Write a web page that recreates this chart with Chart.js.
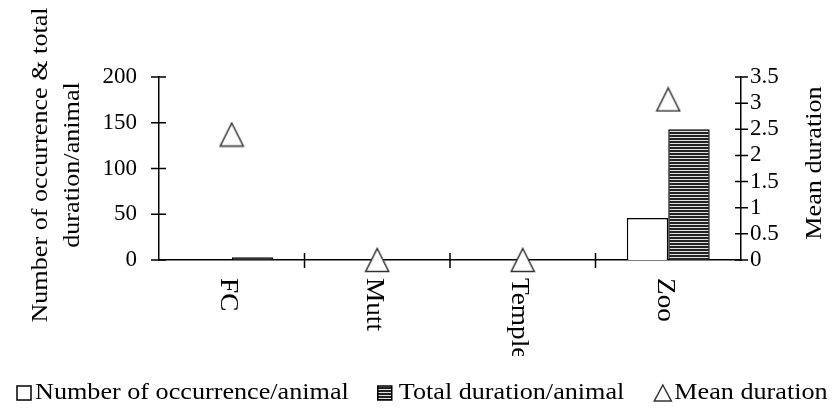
<!DOCTYPE html>
<html>
<head>
<meta charset="utf-8">
<script src="https://cdn.jsdelivr.net/npm/chart.js@4/dist/chart.umd.min.js"></script>
<style>
  html, body { margin: 0; padding: 0; background: #fff; }
</style>
</head>
<body>
<canvas id="myChart" width="838" height="409"></canvas>
<script>
// values
const categories = ['FC', 'Mutt', 'Temple', 'Zoo'];
const occurrence = [0, 0, 0, 46];
const totalDuration = [3, 0, 0, 143];
const meanDuration = [2.4, 0, 0, 3.07];
const leftTicks = [0, 50, 100, 150, 200];
const rightTicks = [0, 0.5, 1, 1.5, 2, 2.5, 3, 3.5];
const seriesNames = ['Number of occurrence/animal', 'Total duration/animal', 'Mean duration'];
const leftTitle = ['Number of occurrence & total', 'duration/animal'];
const rightTitle = 'Mean duration';

const FONT = '"Liberation Serif", "Times New Roman", Tinos, Times, serif';
const STRETCH = 1.09;

const canvas = document.getElementById('myChart');
const ctx = canvas.getContext('2d');

// horizontal stripes for the total duration bars
function stripes() {
    const c = document.createElement('canvas');
    c.width = 4; c.height = 3;
    const g = c.getContext('2d');
    g.fillStyle = '#e0e0e0'; g.fillRect(0, 0, 4, 3);
    g.fillStyle = '#222'; g.fillRect(0, 0, 4, 2);
    return ctx.createPattern(c, 'repeat');
}
const hatch = stripes();

// open triangle marker
function triangle() {
    const c = document.createElement('canvas');
    c.width = 26; c.height = 26;
    const g = c.getContext('2d');
    g.beginPath();
    g.moveTo(13, 1.5); g.lineTo(24.5, 24.5); g.lineTo(1.5, 24.5); g.closePath();
    g.fillStyle = '#fff'; g.fill();
    g.strokeStyle = '#333'; g.lineWidth = 1.5; g.stroke();
    return c;
}

function drawText(str, x, y, angle, align) {
    ctx.save();
    ctx.translate(x, y);
    ctx.rotate(angle);
    ctx.scale(STRETCH, 1);
    ctx.textAlign = align;
    ctx.textBaseline = 'middle';
    ctx.fillText(str, 0, 0);
    ctx.restore();
}

const decor = {
    id: 'decor',
    beforeDatasetsDraw(chart) {
        const a = chart.chartArea;
        const { x, y, y1 } = chart.scales;
        ctx.save();
        ctx.strokeStyle = '#000';
        ctx.lineWidth = 1.5;
        ctx.beginPath();
        y.ticks.forEach(t => {
            const p = y.getPixelForValue(t.value);
            ctx.moveTo(a.left - 8, p); ctx.lineTo(a.left + 7, p);
        });
        y1.ticks.forEach(t => {
            const p = y1.getPixelForValue(t.value);
            ctx.moveTo(a.right - 6, p); ctx.lineTo(a.right + 7, p);
        });
        for (let i = 1; i < categories.length; i++) {
            const p = (x.getPixelForValue(i - 1) + x.getPixelForValue(i)) / 2;
            ctx.moveTo(p, a.bottom - 7); ctx.lineTo(p, a.bottom + 8);
        }
        ctx.stroke();
        ctx.restore();
    },
    afterDraw(chart) {
        const x = chart.scales.x;
        ctx.save();
        ctx.fillStyle = '#000';

        // axis titles
        ctx.font = '24px ' + FONT;
        drawText(leftTitle[0], 41, 165, -Math.PI / 2, 'center');
        drawText(leftTitle[1], 73, 165, -Math.PI / 2, 'center');
        drawText(rightTitle, 815, 163, -Math.PI / 2, 'center');

        // category labels, rotated clockwise and cut at the bottom
        ctx.save();
        ctx.beginPath();
        ctx.rect(0, 0, 838, 356);
        ctx.clip();
        ctx.font = '25px ' + FONT;
        categories.forEach((c, i) => {
            drawText(c, x.getPixelForValue(i) - 4, 278, Math.PI / 2, 'left');
        });
        ctx.restore();

        // legend
        const ly = 393;
        ctx.font = '24px ' + FONT;
        ctx.lineWidth = 1.5;
        ctx.strokeStyle = '#000';
        let lx = 17;
        ctx.fillStyle = '#fff';
        ctx.fillRect(lx, ly - 7, 14, 14);
        ctx.strokeRect(lx, ly - 7, 14, 14);
        ctx.fillStyle = '#000';
        drawText(seriesNames[0], lx + 18, ly, 0, 'left');
        lx += 18 + ctx.measureText(seriesNames[0]).width * STRETCH + 29;

        ctx.fillStyle = hatch;
        ctx.fillRect(lx, ly - 7, 14, 14);
        ctx.strokeRect(lx, ly - 7, 14, 14);
        ctx.fillStyle = '#000';
        drawText(seriesNames[1], lx + 21, ly, 0, 'left');
        lx += 21 + ctx.measureText(seriesNames[1]).width * STRETCH + 30;

        ctx.strokeStyle = '#333';
        ctx.beginPath();
        ctx.moveTo(lx + 8.5, ly - 8); ctx.lineTo(lx + 17, ly + 8); ctx.lineTo(lx, ly + 8); ctx.closePath();
        ctx.stroke();
        drawText(seriesNames[2], lx + 20, ly, 0, 'left');
        ctx.restore();
    }
};

function draw() {
    new Chart(ctx, {
        type: 'bar',
        data: {
            labels: categories,
            datasets: [{
                label: seriesNames[0],
                data: occurrence,
                backgroundColor: '#fff',
                borderColor: '#000',
                borderWidth: 1.5,
                yAxisID: 'y',
                order: 1
            }, {
                label: seriesNames[1],
                data: totalDuration,
                backgroundColor: hatch,
                borderColor: '#000',
                borderWidth: 1.5,
                yAxisID: 'y',
                order: 1
            }, {
                type: 'line',
                label: seriesNames[2],
                data: meanDuration,
                showLine: false,
                pointStyle: triangle(),
                yAxisID: 'y1',
                clip: false,
                order: 0
            }]
        },
        options: {
            responsive: false,
            animation: false,
            events: [],
            layout: { padding: { top: 77, left: 0, right: 0, bottom: 0 } },
            datasets: {
                bar: { categoryPercentage: 0.57, barPercentage: 1 }
            },
            plugins: {
                legend: { display: false },
                tooltip: { enabled: false }
            },
            scales: {
                x: {
                    type: 'category',
                    offset: true,
                    grid: { display: false },
                    ticks: { display: false },
                    border: { display: true, color: '#000', width: 1.5 },
                    afterFit: s => { s.height = 149; }
                },
                y: {
                    position: 'left',
                    min: 0,
                    max: 200,
                    afterBuildTicks: s => { s.ticks = leftTicks.map(v => ({ value: v })); },
                    grid: { display: false, drawTicks: false },
                    border: { display: true, color: '#000', width: 1.5 },
                    ticks: {
                        autoSkip: false,
                        padding: 22,
                        color: '#000',
                        font: { family: FONT, size: 23 },
                        callback: v => String(v)
                    },
                    afterFit: s => { s.width = 159; }
                },
                y1: {
                    position: 'right',
                    min: 0,
                    max: 3.5,
                    afterBuildTicks: s => { s.ticks = rightTicks.map(v => ({ value: v })); },
                    grid: { display: false, drawTicks: false },
                    border: { display: true, color: '#000', width: 1.5 },
                    ticks: {
                        autoSkip: false,
                        padding: 9,
                        color: '#000',
                        font: { family: FONT, size: 23 },
                        callback: v => String(v)
                    },
                    afterFit: s => { s.width = 97; }
                }
            }
        },
        plugins: [decor]
    });
}

document.fonts.load('24px "Liberation Serif"').then(draw, draw);
</script>
</body>
</html>
